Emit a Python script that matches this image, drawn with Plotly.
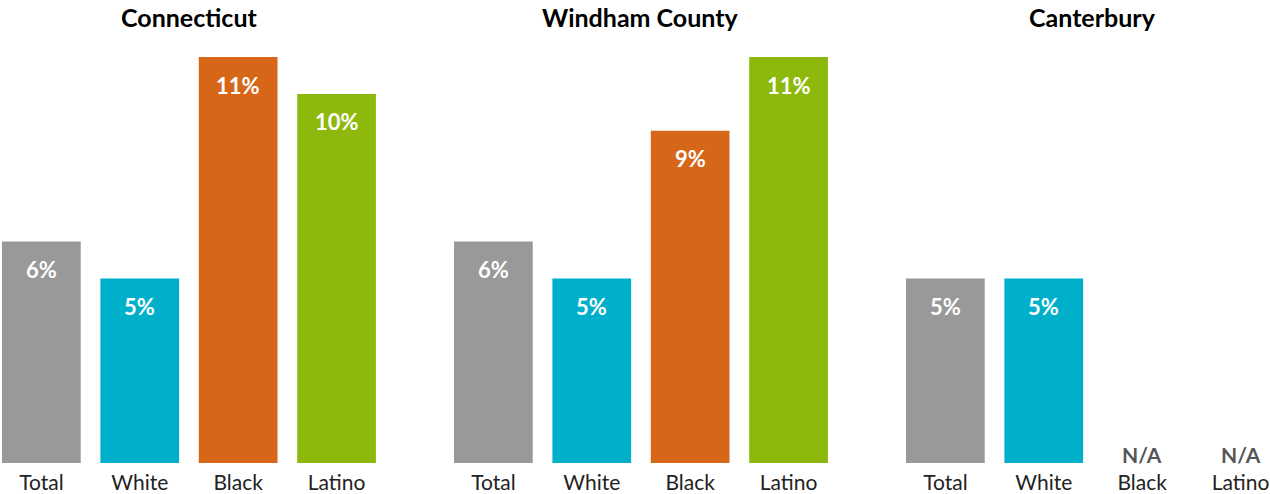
import plotly.graph_objects as go

categories = ["Total", "White", "Black", "Latino"]
panels = ["Connecticut", "Windham County", "Canterbury"]
ct_values = [6, 5, 11, 10]
windham_values = [6, 5, 9, 11]
canterbury_values = [5, 5, None, None]
colors = ["#999999", "#00AFCA", "#D66618", "#8DB90C"]

all_values = [ct_values, windham_values, canterbury_values]

W, H = 1270, 494
FONT = "Lato"
bar_px = 98.4  # px per category
panel_left = [2, 454, 906]

fig = go.Figure()
y0 = (H - 463) / H
px_per_pct = (463 - 57) / 11.0
ymax = 12
y1 = (H - (463 - ymax * px_per_pct)) / H

annotations = []
for i, (name, vals) in enumerate(zip(panels, all_values)):
    left = panel_left[i]
    right = left + 3.8 * bar_px
    d0 = left / W
    d1 = min(right / W, 1.0)
    r1 = -0.4 + (d1 * W - left) / bar_px
    ax = "" if i == 0 else str(i + 1)
    xs = list(range(len(categories)))
    fig.add_trace(go.Bar(
        x=xs, y=vals,
        marker=dict(color=colors, line=dict(width=0)),
        width=0.8, xaxis="x" + ax, yaxis="y" + ax,
        hoverinfo="skip", showlegend=False,
    ))
    fig.layout["xaxis" + ax] = dict(
        domain=[d0, d1], range=[-0.4, r1], tickmode="array",
        tickvals=xs, ticktext=categories, showgrid=False, zeroline=False,
        showline=False, ticks="", ticklabelstandoff=5,
        tickfont=dict(family=FONT, size=21, color="#222222"),
        anchor="y" + ax, fixedrange=True,
    )
    fig.layout["yaxis" + ax] = dict(
        domain=[y0, y1], range=[0, ymax], visible=False, anchor="x" + ax,
        fixedrange=True,
    )
    for x, v in zip(xs, vals):
        if v is None:
            annotations.append(dict(
                x=x, y=0, xref="x" + ax, yref="y" + ax, text="<b>N/A</b>",
                showarrow=False, yanchor="bottom", yshift=-6,
                font=dict(family=FONT, size=21, color="#555555"),
            ))
        else:
            annotations.append(dict(
                x=x, y=v, xref="x" + ax, yref="y" + ax, text=f"<b>{v}%</b>",
                showarrow=False, yanchor="middle", yshift=-28,
                font=dict(family=FONT, size=22, color="#FFFFFF"),
            ))
    cx = (left + left + 3.8 * bar_px) / 2 / W
    annotations.append(dict(
        x=cx, y=(H - 17) / H, xref="paper", yref="paper", text=f"<b>{name}</b>",
        showarrow=False, xanchor="center", yanchor="middle",
        font=dict(family=FONT, size=25, color="#000000"),
    ))

fig.update_layout(
    width=W, height=H, margin=dict(l=0, r=0, t=0, b=0),
    paper_bgcolor="white", plot_bgcolor="white",
    annotations=annotations, font=dict(family=FONT),
)
fig.write_html("out.html", config={"displayModeBar": False, "staticPlot": True},
               post_script="document.body.style.margin='0';document.body.style.overflow='hidden';")
